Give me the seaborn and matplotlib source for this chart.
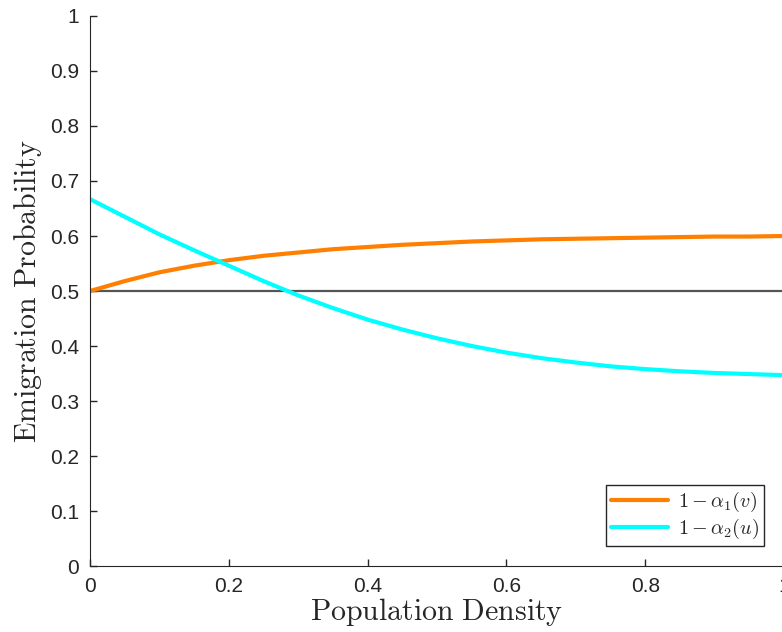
import numpy as np
import pandas as pd
import seaborn as sns
import matplotlib.pyplot as plt

# values
density = [0.00, 0.05, 0.10, 0.15, 0.20, 0.25, 0.30, 0.35, 0.40, 0.45, 0.50,
           0.55, 0.60, 0.65, 0.70, 0.75, 0.80, 0.85, 0.90, 0.95, 1.00]
one_minus_alpha1 = [0.500, 0.518, 0.534, 0.546, 0.556, 0.564, 0.570, 0.576, 0.580, 0.584, 0.587,
                    0.590, 0.592, 0.594, 0.595, 0.596, 0.597, 0.598, 0.599, 0.599, 0.600]
one_minus_alpha2 = [0.667, 0.635, 0.603, 0.574, 0.546, 0.518, 0.492, 0.469, 0.448, 0.430, 0.414,
                    0.400, 0.388, 0.378, 0.370, 0.363, 0.358, 0.354, 0.351, 0.349, 0.347]
reference_level = 0.5

sns.set_style("ticks")
plt.rcParams["font.family"] = ["Liberation Sans", "DejaVu Sans"]
plt.rcParams["mathtext.fontset"] = "cm"

df = pd.DataFrame({"density": density,
                   "a1": one_minus_alpha1,
                   "a2": one_minus_alpha2})

fig = plt.figure(figsize=(7.82, 6.32), dpi=100)
ax = fig.add_axes([0.1151, 0.1044, 0.8875, 0.8703])

ax.axhline(reference_level, color="#555555", lw=1.6, zorder=1)
sns.lineplot(data=df, x="density", y="a1", ax=ax, color="#FF8000", lw=3,
             label=r"$1-\alpha_1(v)$")
sns.lineplot(data=df, x="density", y="a2", ax=ax, color="#00FFFF", lw=3,
             label=r"$1-\alpha_2(u)$")

ax.set_xlim(0, 1)
ax.set_ylim(0, 1)
ax.set_xticks([0, 0.2, 0.4, 0.6, 0.8, 1])
ax.set_xticklabels(["0", "0.2", "0.4", "0.6", "0.8", "1"])
ax.set_yticks(np.arange(0, 1.01, 0.1))
ax.set_yticklabels(["0"] + [f"{v:.1f}" for v in np.arange(0.1, 0.95, 0.1)] + ["1"])
ax.tick_params(direction="in", length=5, width=1, labelsize=15, colors="#262626",
               pad=8)
for s in ["left", "bottom"]:
    ax.spines[s].set_color("#262626")
sns.despine(ax=ax)

ax.set_xlabel(r"$\mathrm{Population\ Density}$", fontsize=21.5, labelpad=0)
ax.set_ylabel(r"$\mathrm{Emigration\ Probability}$", fontsize=21.5, labelpad=4)

leg = ax.legend(loc="lower right", fontsize=14.5, frameon=True, fancybox=False,
                edgecolor="#262626", framealpha=1, borderaxespad=1.0,
                handlelength=2.8, handletextpad=0.5, borderpad=0.25,
                labelspacing=0.15)
leg.get_frame().set_linewidth(1)

fig.savefig("out.png", dpi=100)
